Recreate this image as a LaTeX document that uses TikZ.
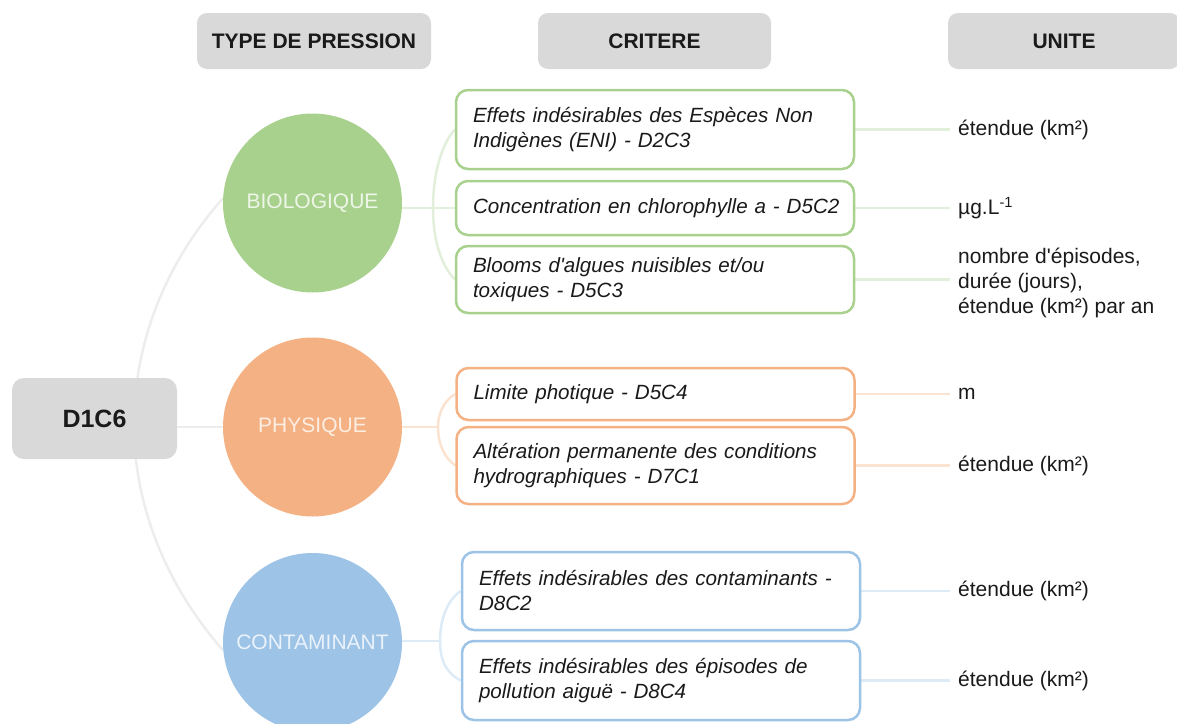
\documentclass[tikz,border=0pt]{standalone}
\usepackage{fontspec}
\setmainfont{Liberation Sans}[Ligatures=TeXOff]
\definecolor{cHdr}{HTML}{D9D9D9}
\definecolor{cGr}{HTML}{A9D18E}
\definecolor{cOr}{HTML}{F4B183}
\definecolor{cBl}{HTML}{9DC3E6}
\definecolor{lGr}{HTML}{E2EFDA}
\definecolor{lOr}{HTML}{FBE3D2}
\definecolor{lBl}{HTML}{DDEBF7}
\definecolor{lArc}{HTML}{EDEDED}
\definecolor{tGr}{HTML}{EEF6E8}
\definecolor{tOr}{HTML}{FDEEE3}
\definecolor{tBl}{HTML}{EAF2FB}
\definecolor{cTxt}{HTML}{1A1A1A}
\pgfdeclarelayer{bg}
\pgfsetlayers{bg,main}
\begin{document}
\begin{tikzpicture}[x=1pt,y=-1pt,
  hdrbox/.style={fill=cHdr, rounded corners=10pt, minimum width=234pt, minimum height=56pt,
    inner sep=0pt, text=cTxt, font=\fontsize{21}{25}\selectfont\bfseries},
  pcirc/.style={circle, minimum size=179pt, inner sep=0pt, font=\fontsize{21}{25}\selectfont},
  crit/.style={draw, line width=2.5pt, rounded corners=12pt, fill=white, text width=374pt,
    minimum width=398pt, align=left, inner xsep=12pt, inner ysep=0pt, text=cTxt,
    font=\fontsize{20.6}{25}\selectfont\itshape},
  unitlbl/.style={anchor=west, inner xsep=8pt, inner ysep=0pt, align=left, text=cTxt,
    font=\fontsize{21}{25}\selectfont},
  link/.style={line width=2.5pt}
]
\useasboundingbox (0,0) rectangle (1177,723);

% headers
\node[hdrbox] (h1) at (314,41) {TYPE DE PRESSION};
\node[hdrbox, minimum width=233pt] (h2) at (654.5,41) {CRITERE};
\node[hdrbox, minimum width=232pt] (h3) at (1064,41) {UNITE};

% root
\node[fill=cHdr, rounded corners=12pt, minimum width=165pt, minimum height=81pt, inner sep=0pt,
  text=cTxt, font=\fontsize{25}{30}\selectfont\bfseries] (root) at (94.5,418.5) {D1C6};

% pressure types
\node[pcirc, fill=cGr, text=tGr] (bio) at (312.5,203) {BIOLOGIQUE};
\node[pcirc, fill=cOr, text=tOr] (phy) at (312.5,427) {PHYSIQUE};
\node[pcirc, fill=cBl, text=tBl] (con) at (312.5,642.5) {CONTAMINANT};

% criteria
\node[crit, draw=cGr, minimum height=79pt] (c1) at (655,129.5) {\hspace*{5pt}Effets indésirables des Espèces Non\\\hspace*{5pt}Indigènes (ENI) - D2C3};
\node[crit, draw=cGr, minimum height=54pt] (c2) at (655,208) {\hspace*{5pt}Concentration en chlorophylle a - D5C2};
\node[crit, draw=cGr, minimum height=67pt] (c3) at (655,279.5) {\hspace*{5pt}Blooms d'algues nuisibles et/ou\\\hspace*{5pt}toxiques - D5C3};
\node[crit, draw=cOr, minimum height=52pt] (c4) at (655.5,394) {\hspace*{5pt}Limite photique - D5C4};
\node[crit, draw=cOr, minimum height=77pt] (c5) at (655.5,465.5) {\hspace*{5pt}Altération permanente des conditions\\\hspace*{5pt}hydrographiques - D7C1};
\node[crit, draw=cBl, minimum height=78pt] (c6) at (661,591) {\hspace*{5pt}Effets indésirables des contaminants -\\\hspace*{5pt}D8C2};
\node[crit, draw=cBl, minimum height=79pt] (c7) at (661,680.5) {\hspace*{5pt}Effets indésirables des épisodes de\\\hspace*{5pt}pollution aiguë - D8C4};

% units
\node[unitlbl] (u1) at (950,129.5) {étendue (km²)};
\node[unitlbl] (u2) at (950,208) {µg.L\textsuperscript{-1}};
\node[unitlbl] (u3) at (950,283) {nombre d'épisodes,\\durée (jours),\\étendue (km²) par an};
\node[unitlbl] (u4) at (950,394) {m};
\node[unitlbl] (u5) at (950,465.5) {étendue (km²)};
\node[unitlbl] (u6) at (950,591) {étendue (km²)};
\node[unitlbl] (u7) at (950,680.5) {étendue (km²)};

% junctions
\coordinate (J1) at (433,208);
\coordinate (J2) at (438,427);
\coordinate (J3) at (440,641);

\begin{pgfonlayer}{bg}
  % main arc
  \draw[link, draw=lArc] (bio.177) .. controls (167,261) and (134,341) .. (134,425)
      .. controls (134,509) and (169,589) .. (con.185);
  \draw[link, draw=lArc] (phy.west) -- (phy.west -| root.east);
  % biologique
  \draw[link, draw=lGr] (bio.east |- c2.west) -- (c2.west);
  \draw[link, draw=lGr] (J1) .. controls (433,175) and (441,145) .. (c1.west);
  \draw[link, draw=lGr] (J1) .. controls (433,240) and (441,265) .. (c3.west);
  % physique
  \draw[link, draw=lOr] (phy.east) -- (J2);
  \draw[link, draw=lOr] (J2) .. controls (438,412) and (445,400) .. (c4.west);
  \draw[link, draw=lOr] (J2) .. controls (438,445) and (445,458) .. (c5.west);
  % contaminant
  \draw[link, draw=lBl] (con.east |- J3) -- (J3);
  \draw[link, draw=lBl] (J3) .. controls (440,615) and (450,598) .. (c6.west);
  \draw[link, draw=lBl] (J3) .. controls (440,665) and (450,675) .. (c7.west);
  % units
  \draw[link, draw=lGr] (c1.east) -- (c1.east -| u1.west);
  \draw[link, draw=lGr] (c2.east) -- (c2.east -| u2.west);
  \draw[link, draw=lGr] (c3.east) -- (c3.east -| u3.west);
  \draw[link, draw=lOr] (c4.east) -- (c4.east -| u4.west);
  \draw[link, draw=lOr] (c5.east) -- (c5.east -| u5.west);
  \draw[link, draw=lBl] (c6.east) -- (c6.east -| u6.west);
  \draw[link, draw=lBl] (c7.east) -- (c7.east -| u7.west);
\end{pgfonlayer}
\end{tikzpicture}
\end{document}
